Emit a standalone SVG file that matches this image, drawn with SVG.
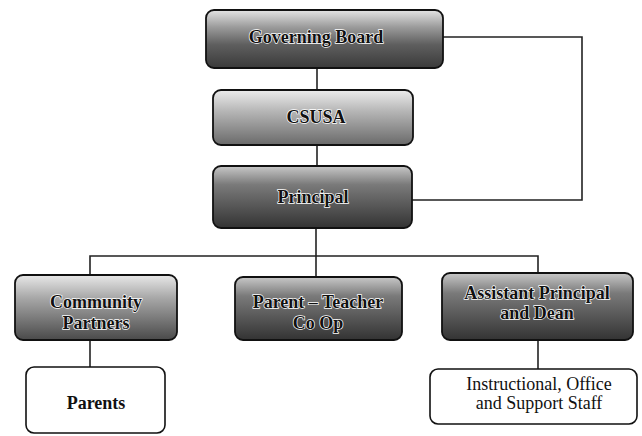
<svg xmlns="http://www.w3.org/2000/svg" width="642" height="436" viewBox="0 0 642 436">
<defs>
<linearGradient id="gDark" x1="0" y1="0" x2="0" y2="1">
<stop offset="0" stop-color="#e4e4e4"/>
<stop offset="0.3" stop-color="#9a9a9a"/>
<stop offset="0.6" stop-color="#5e5e5e"/>
<stop offset="1" stop-color="#3a3a3a"/>
</linearGradient>
<linearGradient id="gLight" x1="0" y1="0" x2="0" y2="1">
<stop offset="0" stop-color="#ececec"/>
<stop offset="0.4" stop-color="#b4b4b4"/>
<stop offset="1" stop-color="#6a6a6a"/>
</linearGradient>
<linearGradient id="gMid" x1="0" y1="0" x2="0" y2="1">
<stop offset="0" stop-color="#e8e8e8"/>
<stop offset="0.35" stop-color="#a8a8a8"/>
<stop offset="1" stop-color="#4a4a4a"/>
</linearGradient>
<linearGradient id="gDeep" x1="0" y1="0" x2="0" y2="1">
<stop offset="0" stop-color="#c8c8c8"/>
<stop offset="0.3" stop-color="#7a7a7a"/>
<stop offset="1" stop-color="#333333"/>
</linearGradient>
</defs>
<style>
.box{stroke:#111;stroke-width:1.8}
.plain{fill:#fff;stroke:#111;stroke-width:1.6}
.lbl{font-family:"Liberation Serif","Times New Roman",serif;font-size:18px;font-weight:bold;fill:#111;stroke:#fff;stroke-width:1.4px;paint-order:stroke;text-anchor:middle;dominant-baseline:central}
.lbl2{font-family:"Liberation Serif","Times New Roman",serif;font-size:18px;fill:#111;text-anchor:middle;dominant-baseline:central}
.conn{fill:none;stroke:#222;stroke-width:1.6}
</style>
<g id="connectors">
<path class="conn" d="M317 68 V90"/>
<path class="conn" d="M317 145 V166"/>
<path class="conn" d="M443 37 H582 V200 H412"/>
<path class="conn" d="M316 228 V277"/>
<path class="conn" d="M90 275 V256 H538 V273"/>
<path class="conn" d="M90 340 V367"/>
<path class="conn" d="M538 340 V369"/>
</g>
<g id="governing-board">
<rect class="box" x="206" y="10" width="237" height="58" rx="8" fill="url(#gDark)"/>
<text class="lbl" x="316" y="37">Governing Board</text>
</g>
<g id="csusa">
<rect class="box" x="213" y="90" width="200" height="55" rx="8" fill="url(#gLight)"/>
<text class="lbl" x="316" y="117">CSUSA</text>
</g>
<g id="principal">
<rect class="box" x="213" y="166" width="199" height="62" rx="8" fill="url(#gDeep)"/>
<text class="lbl" x="313" y="197">Principal</text>
</g>
<g id="community-partners">
<rect class="box" x="15" y="275" width="162" height="65" rx="8" fill="url(#gMid)"/>
<text class="lbl" x="96" y="302">Community</text>
<text class="lbl" x="96" y="323">Partners</text>
</g>
<g id="parent-teacher">
<rect class="box" x="235" y="277" width="167" height="63" rx="8" fill="url(#gDeep)"/>
<text class="lbl" x="318" y="302">Parent – Teacher</text>
<text class="lbl" x="318" y="323">Co Op</text>
</g>
<g id="assistant-principal">
<rect class="box" x="442" y="273" width="191" height="67" rx="8" fill="url(#gDeep)"/>
<text class="lbl" x="537" y="293">Assistant Principal</text>
<text class="lbl" x="537" y="313">and Dean</text>
</g>
<g id="parents">
<rect class="plain" x="26" y="367" width="139" height="66" rx="8"/>
<text class="lbl2" x="96" y="403" font-weight="bold">Parents</text>
</g>
<g id="staff">
<rect class="plain" x="430" y="369" width="207" height="55" rx="8"/>
<text class="lbl2" x="539" y="384">Instructional, Office</text>
<text class="lbl2" x="539" y="403">and Support Staff</text>
</g>
</svg>
